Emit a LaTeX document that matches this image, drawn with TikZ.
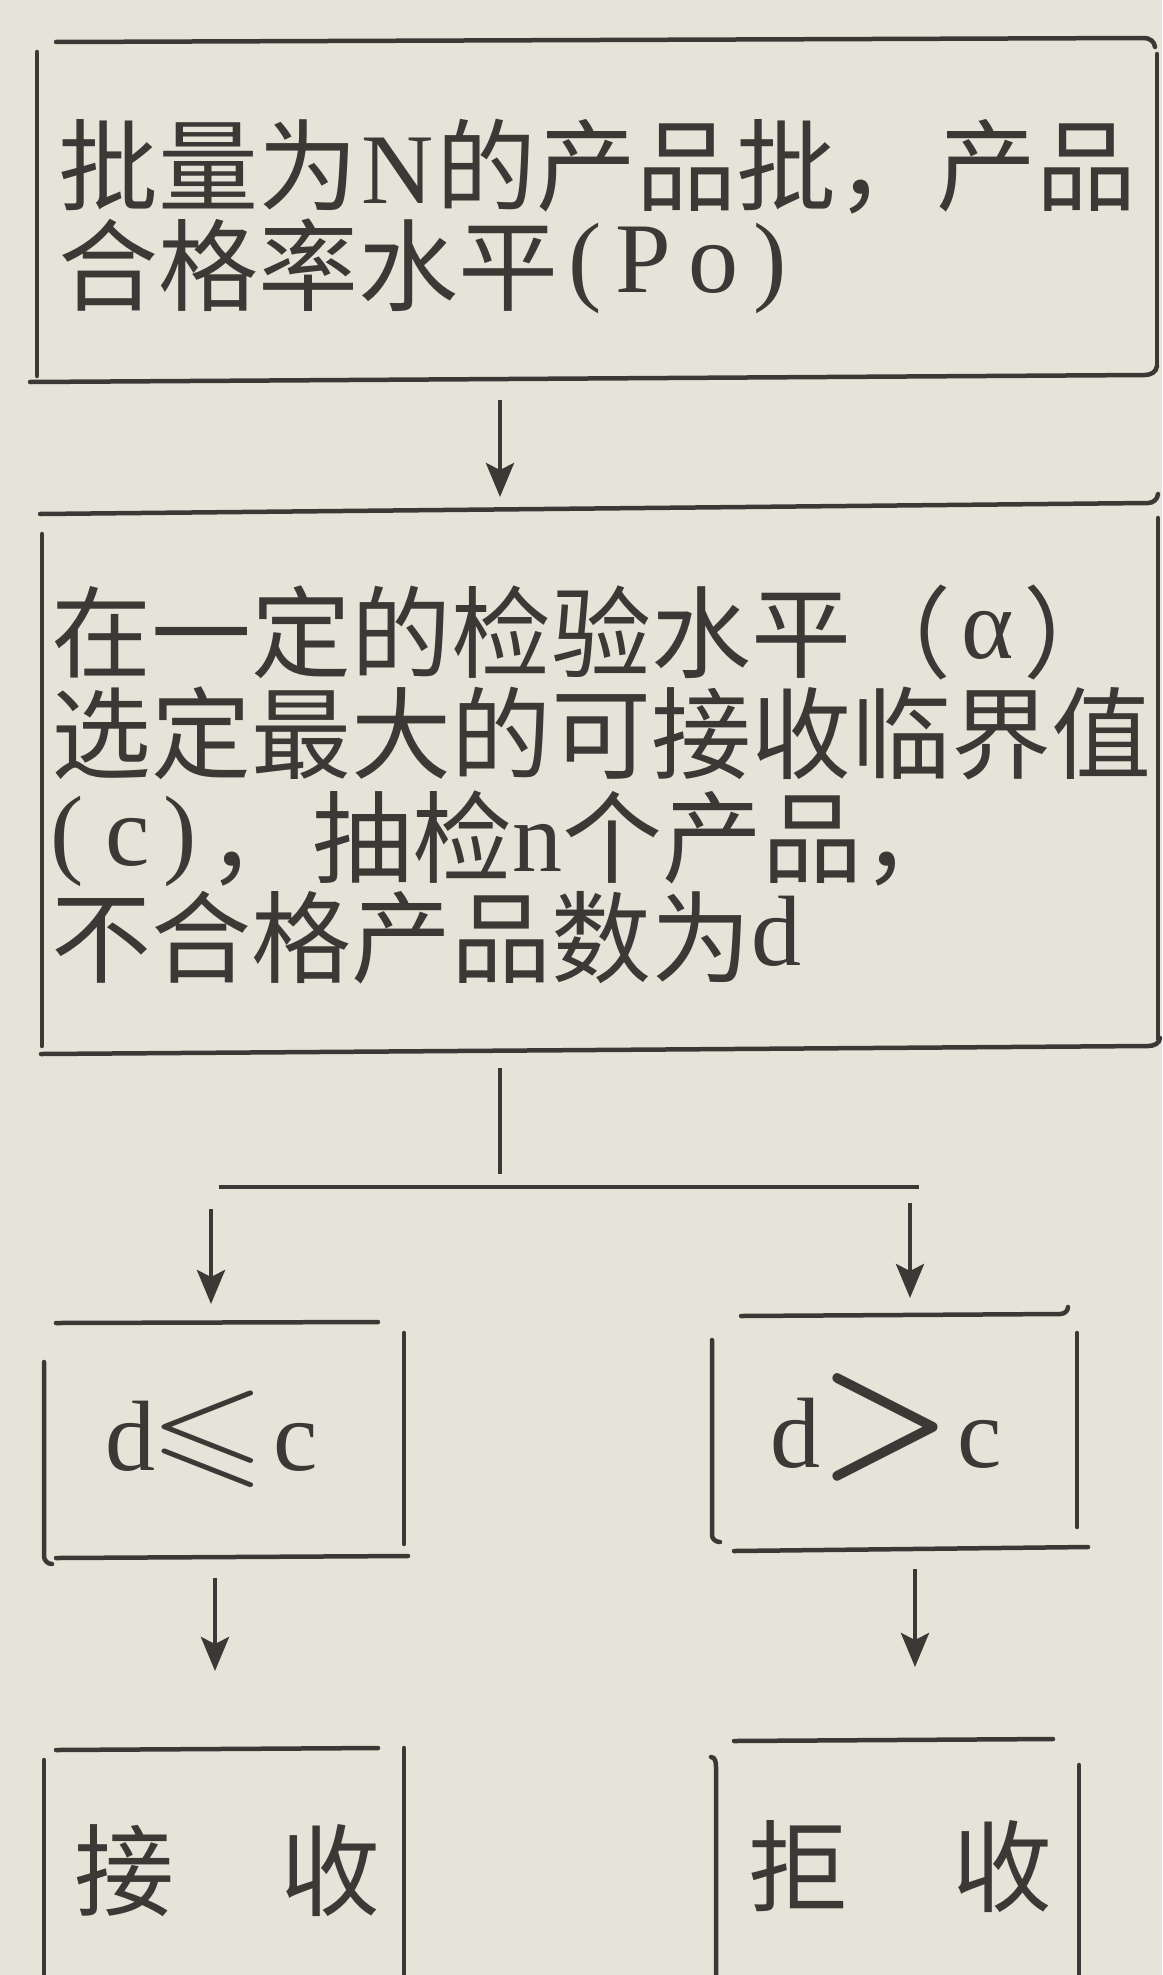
\documentclass[tikz,border=0pt]{standalone}
\usepackage{fontspec}
\usepackage{amssymb}
\setmainfont{Liberation Serif}
\newfontfamily\cjk{Noto Sans CJK SC}
\usetikzlibrary{arrows.meta,calc}
\definecolor{paper}{HTML}{E6E3D8}
\definecolor{inkc}{HTML}{3B3935}
\begin{document}
\begin{tikzpicture}[x=1pt,y=-1pt,
  txt/.style={anchor=base west, inner sep=0pt, outer sep=0pt, text=inkc, font=\fontsize{100}{120}\selectfont},
  framebox/.style={draw=none, rectangle, inner sep=0pt, outer sep=0pt},
  fr/.style={draw=inkc, line width=4.5pt, line cap=round},
  ln/.style={draw=inkc, line width=4.5pt},
  arr/.style={ln, -{Stealth[length=34pt,width=28pt,inset=7pt]}}]
\useasboundingbox (0,0) rectangle (1162,1975);
\fill[paper] (0,0) rectangle (1162,1975);

% invisible box nodes
\node[framebox, minimum width=1120pt, minimum height=339pt] (B1) at (597,209.5) {};
\node[framebox, minimum width=1117pt, minimum height=542pt] (B2) at (599.5,779) {};
\node[framebox, minimum width=360pt, minimum height=234pt] (B3) at (224,1440) {};
\node[framebox, minimum width=365pt, minimum height=235pt] (B4) at (894.5,1432.5) {};
\node[framebox, minimum width=360pt, minimum height=242pt] (B5) at (224,1869) {};
\node[framebox, minimum width=364pt, minimum height=250pt] (B6) at (897,1865) {};

% frames
\draw[fr] (56,42) -- (1144,38) to[out=0,in=95] (1155,47);
\draw[fr] (37,52) -- (37,376);
\draw[fr] (1157,54) -- (1157,364);
\draw[fr] (30,382) -- (1145,375) to[out=0,in=-95] (1157,366);

\draw[fr] (40,514) -- (1148,503) to[out=0,in=-95] (1158,494);
\draw[fr] (42,534) -- (42,1046);
\draw[fr] (1158,518) -- (1158,1039);
\draw[fr] (41,1054) -- (1148,1046) to[out=0,in=-95] (1160,1038);

\draw[fr] (56,1323) -- (378,1322);
\draw[fr] (44,1362) -- (44,1556) to[out=-90,in=180] (52,1564);
\draw[fr] (404,1333) -- (404,1544);
\draw[fr] (56,1558) -- (408,1556);

\draw[fr] (741,1316) -- (1060,1314) to[out=0,in=-90] (1068,1307);
\draw[fr] (712,1340) -- (712,1535) to[out=-90,in=180] (720,1542);
\draw[fr] (1077,1333) -- (1077,1527);
\draw[fr] (734,1551) -- (1088,1547);

\draw[fr] (56,1750) -- (378,1748);
\draw[fr] (44,1760) -- (44,1980);
\draw[fr] (404,1748) -- (404,1980);

\draw[fr] (734,1741) -- (1053,1739);
\draw[fr] (711,1757) to[out=0,in=90] (716,1767) -- (716,1980);
\draw[fr] (1079,1765) -- (1079,1980);

% texts
\node[txt] (t1a) at (58,203) {{\cjk 批量为}\hspace{3pt}N\hspace{3pt}{\cjk 的产品批，产品}};
\node[txt] (t1b) at (58,303) {{\cjk 合格率水平}\hspace{10pt}\raisebox{11pt}{(\hspace{14pt}P\hspace{18pt}o\hspace{15pt})}};

\node[txt] (t2a) at (51,670) {{\cjk 在一定的检验水平（}\hspace{10pt}\raisebox{12pt}{α}\hspace{10pt}{\cjk ）}};
\node[txt] (t2b) at (51,771) {{\cjk 选定最大的可接收临界值}};
\node[txt] (t2c) at (50,875) {\raisebox{10pt}{(\hspace{22pt}c\hspace{14pt})}\hspace{11pt}{\cjk ，}\hspace{5pt}{\cjk 抽检}\raisebox{4pt}{n}{\cjk 个产品，}};
\node[txt] (t2d) at (51,975) {{\cjk 不合格产品数为}\raisebox{10pt}{d}};

\node[txt] (t3) at (105,1470) {d\hspace{-6pt}\scalebox{15}[12.5]{\normalsize$\leqslant$}\hspace{8pt}c};
\node[txt] (t4) at (770,1467) {d\hspace{-2pt}\scalebox{15}[16]{\normalsize\boldmath$>$}\hspace{5pt}c};

\node[txt] (t5) at (74,1908) {{\cjk 接}\hspace{106pt}{\cjk 收}};
\node[txt] (t6) at (748,1904) {{\cjk 拒}\hspace{104pt}{\cjk 收}};

% connectors
\coordinate (ax) at (500,0);
\coordinate (J) at (500,1187);
\coordinate (JL) at (219,1187);
\coordinate (JR) at (919,1187);
\coordinate (la) at (211,0);
\coordinate (ra) at (910,0);
\coordinate (lb) at (215,0);
\coordinate (rb) at (915,0);

\draw[arr, shorten <=21pt, shorten >=11pt] (B1.south -| ax) -- (B2.north -| ax);
\draw[ln, shorten <=18pt, shorten >=13pt] (B2.south -| J) -- (J);
\draw[ln] (JL) -- (JR);
\draw[arr, shorten <=22pt, shorten >=19pt] (JL -| la) -- (B3.north -| la);
\draw[arr, shorten <=16pt, shorten >=17pt] (JR -| ra) -- (B4.north -| ra);
\draw[arr, shorten <=21pt, shorten >=77pt] (B3.south -| lb) -- (B5.north -| lb);
\draw[arr, shorten <=19pt, shorten >=73pt] (B4.south -| rb) -- (B6.north -| rb);
\end{tikzpicture}
\end{document}
